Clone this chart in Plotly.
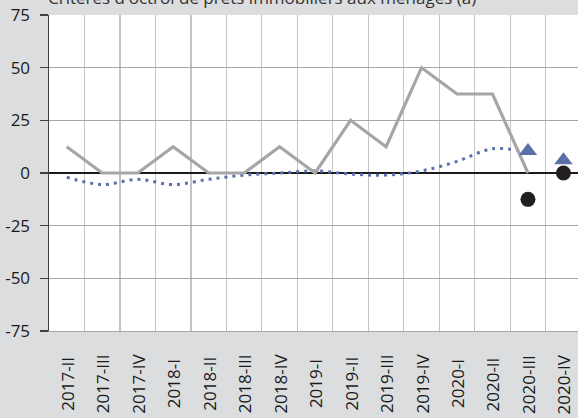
import plotly.graph_objects as go

categories = ["2017-II", "2017-III", "2017-IV", "2018-I", "2018-II", "2018-III", "2018-IV",
              "2019-I", "2019-II", "2019-III", "2019-IV", "2020-I", "2020-II", "2020-III", "2020-IV"]
realised = [12.5, 0, 0, 12.5, 0, 0, 12.5, 0, 25, 12.5, 50, 37.5, 37.5, 0, None]
smoothed = [-2, -5.5, -3, -5.5, -3, -1, 0, 1, -0.5, -1, 1, 5.5, 11.5, 10, None]
expected_tri_cats = ["2020-III", "2020-IV"]
expected_tri = [10.5, 6]
expected_dot_cats = ["2020-III", "2020-IV"]
expected_dot = [-12.5, 0]
y_tick_vals = [-75, -50, -25, 0, 25, 50, 75]
y_tick_text = ["-75", "-50", "-25", "0", "25", "50", "75"]
title_text = "Critères d'octroi de prêts immobiliers aux ménages (a)"

FONT = "Open Sans"
FS = 17
fig = go.Figure()
fig.add_trace(go.Scatter(x=categories, y=smoothed, mode="lines",
                         line=dict(color="#5A72AA", width=3, dash="3px,5px", shape="spline", smoothing=1),
                         hoverinfo="skip"))
fig.add_trace(go.Scatter(x=categories, y=realised, mode="lines",
                         line=dict(color="#A6A6A6", width=3.2), hoverinfo="skip"))
fig.add_trace(go.Scatter(x=expected_tri_cats, y=expected_tri, mode="markers",
                         marker=dict(symbol="triangle-up", size=16, color="#5B70A9"), hoverinfo="skip"))
fig.add_trace(go.Scatter(x=expected_dot_cats, y=expected_dot, mode="markers",
                         marker=dict(symbol="circle", size=15, color="#231F20"), hoverinfo="skip"))

for c in categories:
    fig.add_annotation(x=c, xref="x", y=0, yref="paper", yshift=-53, text=c, textangle=-90,
                       showarrow=False, xanchor="center", yanchor="middle",
                       font=dict(family=FONT, size=FS, color="#1a1a1a"))

fig.add_annotation(x=0, xref="paper", y=1, yref="paper", yshift=4, text=title_text,
                   showarrow=False, xanchor="left", yanchor="bottom", xshift=-3,
                   font=dict(family=FONT, size=FS, color="#333333"))

fig.update_layout(
    width=578, height=418,
    margin=dict(l=49, r=0, t=15, b=87),
    paper_bgcolor="#DCDDDF", plot_bgcolor="#FFFFFF",
    showlegend=False,
    font=dict(family=FONT, size=FS, color="#1a1a1a"),
)
fig.update_xaxes(type="category", categoryorder="array", categoryarray=categories,
                 range=[-0.5, 14.41], tickson="boundaries", showgrid=True,
                 gridcolor="#C4C4C4", gridwidth=1.2, showticklabels=False, ticks="",
                 showline=True, linecolor="#A6A6A6", linewidth=1.2, zeroline=False)
fig.update_yaxes(range=[-75, 75], tickvals=y_tick_vals, ticktext=y_tick_text,
                 showgrid=True, gridcolor="#A6A6A6", gridwidth=1.2,
                 zeroline=True, zerolinecolor="#1a1a1a", zerolinewidth=1.3,
                 showline=True, linecolor="#404040", linewidth=1.5,
                 ticks="outside", ticklen=8, tickcolor="#404040", tickwidth=1.2,
                 ticklabelstandoff=6, tickfont=dict(size=FS))

fig.write_html("out.html", config={"displayModeBar": False, "staticPlot": True},
               post_script="document.body.style.margin='0';")
